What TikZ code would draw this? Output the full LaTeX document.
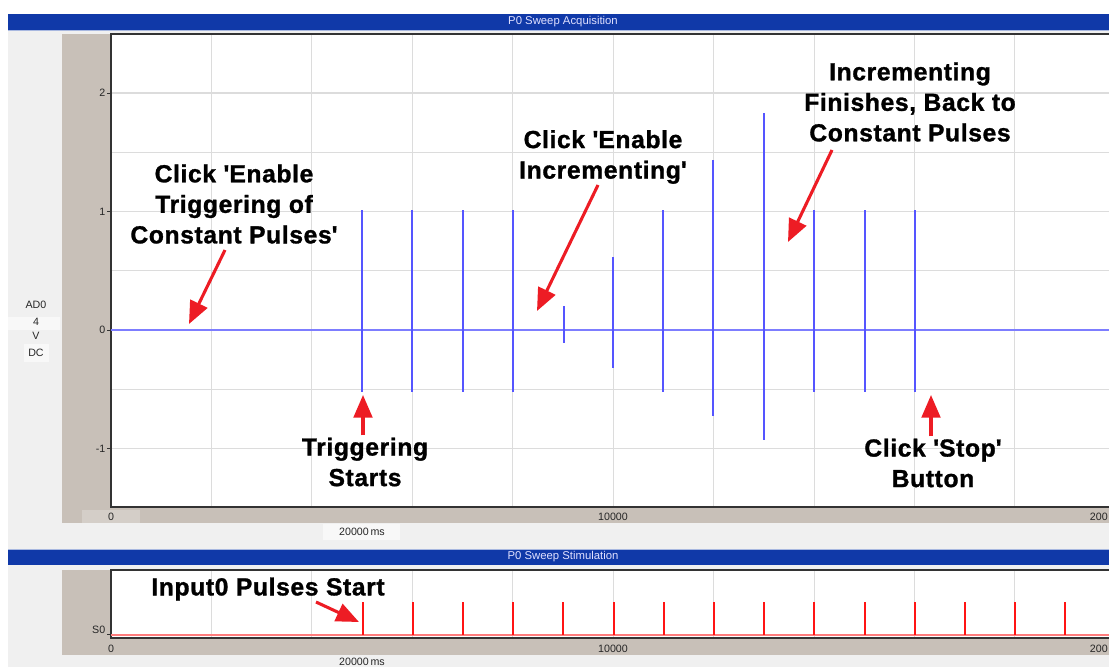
\documentclass[tikz,border=0pt]{standalone}
\usepackage{fontspec}
\setmainfont{Liberation Sans}
\usetikzlibrary{arrows.meta}

\definecolor{barblue}{RGB}{16,57,168}
\definecolor{barline}{RGB}{168,184,224}
\definecolor{panelgray}{RGB}{240,240,240}
\definecolor{striptan}{RGB}{200,192,184}
\definecolor{labelbox}{RGB}{212,206,200}
\definecolor{gridgray}{RGB}{220,220,220}
\definecolor{traceblue}{RGB}{85,85,255}
\definecolor{baseblue}{RGB}{125,125,255}
\definecolor{tracered}{RGB}{255,20,20}
\definecolor{basered}{RGB}{255,125,125}
\definecolor{calloutred}{RGB}{237,28,36}

\newcommand{\apos}{\textquotesingle}

\tikzset{
  gridline/.style={draw=gridgray, line width=0.8pt},
  frame/.style={draw=black!80, line width=0.8pt},
  trace/.style={draw=traceblue, line width=1.4pt},
  stim/.style={draw=tracered, line width=1.5pt},
  titletext/.style={text=white!88!blue, font=\fontsize{8.5}{10}\selectfont, inner sep=0pt},
  ticklabel/.style={text=black!85, font=\fontsize{8}{9}\selectfont, inner sep=0pt},
  note/.style={font=\fontsize{18.5}{22.9}\selectfont\bfseries\addfontfeatures{LetterSpace=2.5,FakeBold=1.2}, align=center, inner sep=0pt},
  callout/.style={draw=calloutred, line width=2.3pt, -{Triangle[length=17pt,width=14pt,fill=calloutred]}},
}

\begin{document}
\begin{tikzpicture}[x=0.75pt,y=-0.75pt]
  \clip (0,0) rectangle (1109,667);
  \fill[white] (0,0) rectangle (1109,667);

  % acquisition panel
  \fill[panelgray] (8,30) rectangle (1109,549);
  \fill[barblue] (8,14) rectangle (1109,30);
  \draw[barline] (8,30.5) -- (1109,30.5);
  \node[titletext] (acqtitle) at (563,22) {P0 Sweep Acquisition};
  \fill[striptan] (62,34) rectangle (1109,523);
  \fill[white] (111,34) rectangle (1109,507);

  \foreach \x in {211.5,311.5,412.5,512.5,613.5,713.5,814.5,914.5,1014.5}
    \draw[gridline] (\x,34) -- (\x,507);
  \foreach \y in {93,152.25,211.5,270.75,389.25,448.5}
    \draw[gridline] (111,\y) -- (1109,\y);
  \draw[frame] (1109,34) -- (111,34) -- (111,507) -- (1109,507);

  \foreach \v/\y in {2/93,1/211.5,0/330,-1/448.5} {
    \draw[black!80] (107,\y) -- (111,\y);
    \node[ticklabel, anchor=east] (ytick\v) at (105.5,\y) {\v};
  }

  \fill[white!55!panelgray] (8,317) rectangle (60,330);
  \fill[white!55!panelgray] (24,344) rectangle (49,362);
  \node[ticklabel] (chan) at (36,305) {AD0};
  \node[ticklabel] (range) at (36,322) {4};
  \node[ticklabel] (unit) at (36,336) {V};
  \node[ticklabel] (coupling) at (36,353) {DC};

  \fill[labelbox] (82,510) rectangle (140,523);
  \node[ticklabel] (xzero) at (111,517) {0};
  \node[ticklabel] (xmid) at (613,517) {10000};
  \node[ticklabel, anchor=east] (xend) at (1108,517) {200};
  \fill[white!55!panelgray] (323,524) rectangle (400,540);
  \node[ticklabel] (xspan) at (362,532) {20000\,ms};

  % response trace
  \draw[baseblue, line width=1.5pt] (111,330) -- (1109,330);
  \foreach \x/\top/\bot in {362/210/392,412/210/392,463/210/392,513/210/392,564/306/343,
      613/257/368,663/210/392,713/160/416,764/113/440,814/210/392,865/210/392,915/210/392}
    \draw[trace] (\x,\top) -- (\x,\bot);
  \draw[trace, line width=2pt] (865,270) -- (865,330);

  % stimulation panel
  \fill[barline] (8,548.5) rectangle (1109,549.5);
  \fill[barblue] (8,549.5) rectangle (1109,565);
  \fill[panelgray] (8,565) rectangle (1109,667);
  \node[titletext] (stimtitle) at (563,557) {P0 Sweep Stimulation};
  \fill[striptan] (62,570) rectangle (1109,655);
  \fill[white] (111,570) rectangle (1109,638);
  \foreach \x in {211.5,311.5,412.5,512.5,613.5,713.5,814.5,914.5,1014.5}
    \draw[gridline] (\x,570) -- (\x,638);
  \draw[frame] (1109,570) -- (111,570) -- (111,638) -- (1109,638);
  \draw[black!80] (107,634) -- (111,634);
  \node[ticklabel, anchor=east] (stimchan) at (105.5,630) {S0};
  \node[ticklabel] (szero) at (111,649) {0};
  \node[ticklabel] (smid) at (613,649) {10000};
  \node[ticklabel, anchor=east] (send) at (1108,649) {200};
  \node[ticklabel] (sspan) at (362,662) {20000\,ms};

  \draw[basered, line width=1.5pt] (111,635) -- (1109,635);
  \foreach \k in {5,...,19}
    \draw[stim] (111.5+50.2*\k,602) -- (111.5+50.2*\k,635);

  % annotations
  \node[note] (enabletrig) at (234,204) {Click \apos Enable\\Triggering of\\Constant Pulses\apos};
  \node[note] (enableinc) at (603,157) {Click \apos Enable\\Incrementing\apos};
  \node[note] (incdone) at (910,102) {Incrementing\\Finishes, Back to\\Constant Pulses};
  \node[note] (trigstart) at (365,462) {Triggering\\Starts};
  \node[note] (stopbtn) at (933,463) {Click \apos Stop\apos\\Button};
  \node[note] (inputstart) at (268,589) {Input0 Pulses Start};

  \coordinate (enabletrigtail) at (225,250);
  \coordinate (enabletrigtip) at (189,324);
  \coordinate (enableinctail) at (598,185);
  \coordinate (enableinctip) at (537,311);
  \coordinate (incdonetail) at (832,150);
  \coordinate (incdonetip) at (788,242);
  \coordinate (trigstarttip) at (363,395);
  \coordinate (stopbtntip) at (931,395);
  \coordinate (inputstarttail) at (316,602);
  \coordinate (inputstarttip) at (359,622);

  \draw[callout] (enabletrigtail) -- (enabletrigtip);
  \draw[callout] (enableinctail) -- (enableinctip);
  \draw[callout] (incdonetail) -- (incdonetip);
  \draw[callout] (trigstart.north -| trigstarttip) ++(0,-2) -- (trigstarttip);
  \draw[callout] (stopbtn.north -| stopbtntip) ++(0,-2) -- (stopbtntip);
  \draw[callout] (inputstarttail) -- (inputstarttip);
\end{tikzpicture}
\end{document}
